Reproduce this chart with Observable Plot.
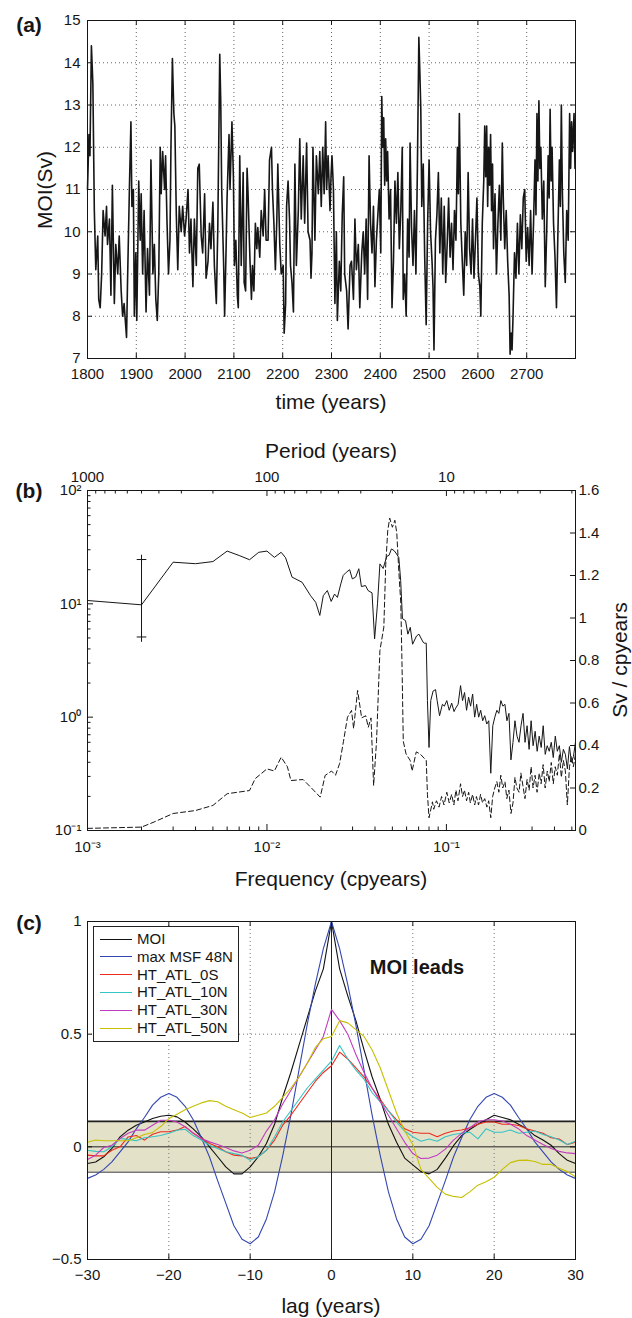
<!DOCTYPE html>
<html><head><meta charset="utf-8">
<script src="https://cdn.jsdelivr.net/npm/d3@7"></script>
<script src="https://cdn.jsdelivr.net/npm/@observablehq/plot@0.6"></script>
<style>
body{margin:0;background:#fff;}
#root{position:relative;width:632px;height:1318px;font-family:"Liberation Sans",Arial,Helvetica,sans-serif;color:#161616;overflow:hidden;}
.abs{position:absolute;white-space:nowrap;line-height:1;}
</style></head><body><div id="root"></div>
<script>
// ---------------- DATA ----------------
// (a) MOI time series [year, Sv]
const moiSeries = [
[1800,11.0],[1803,12.3],[1805,11.8],[1808,14.4],[1811,13.5],[1814,10.5],[1817,9.1],[1821,9.9],[1823,8.4],[1826,8.2],[1829,9.0],[1832,10.5],[1836,9.9],[1839,10.6],[1841,9.7],[1845,10.3],[1848,8.5],[1851,11.1],[1855,8.3],[1858,9.7],[1862,9.0],[1865,9.9],[1869,8.6],[1872,8.0],[1875,8.3],[1880,7.5],[1882,8.8],[1886,11.1],[1889,12.6],[1891,10.6],[1894,11.0],[1896,8.0],[1899,9.5],[1901,7.9],[1905,11.2],[1908,9.8],[1910,10.9],[1913,9.0],[1916,10.5],[1920,8.1],[1923,9.6],[1927,8.5],[1930,11.7],[1934,9.0],[1937,9.7],[1940,8.4],[1943,7.9],[1946,9.0],[1949,12.0],[1951,10.9],[1954,11.9],[1958,11.0],[1960,11.8],[1963,10.2],[1966,9.0],[1969,9.8],[1971,12.0],[1974,14.1],[1977,12.8],[1979,12.5],[1982,10.4],[1985,9.1],[1988,10.6],[1992,10.0],[1995,10.6],[1999,9.9],[2002,10.3],[2006,11.0],[2009,9.5],[2012,10.3],[2016,8.7],[2019,10.3],[2023,9.2],[2026,11.5],[2029,11.6],[2033,9.9],[2036,9.5],[2040,10.9],[2043,8.9],[2047,9.3],[2050,10.2],[2053,9.6],[2057,10.7],[2060,9.2],[2064,8.3],[2067,10.1],[2071,14.2],[2073,13.1],[2075,11.0],[2079,9.2],[2081,8.0],[2084,9.6],[2086,10.8],[2090,12.3],[2092,11.0],[2096,12.6],[2099,11.3],[2101,9.2],[2104,9.8],[2107,8.5],[2109,8.2],[2112,11.8],[2115,9.2],[2119,11.4],[2121,8.8],[2124,8.6],[2127,11.5],[2129,10.9],[2133,9.3],[2136,8.4],[2138,9.2],[2141,8.6],[2144,10.2],[2147,9.6],[2149,10.1],[2153,9.4],[2156,10.5],[2160,9.9],[2163,11.0],[2166,9.8],[2170,9.8],[2173,11.7],[2177,12.0],[2179,11.0],[2182,10.2],[2185,9.1],[2188,10.3],[2190,11.6],[2194,9.7],[2197,9.0],[2201,9.2],[2203,7.6],[2206,8.3],[2208,10.6],[2211,11.2],[2214,10.3],[2216,9.2],[2219,8.8],[2222,8.1],[2225,11.6],[2228,9.2],[2232,10.5],[2235,12.2],[2238,10.3],[2242,11.8],[2245,10.2],[2249,12.1],[2252,10.0],[2256,9.8],[2258,8.9],[2260,9.5],[2262,12.0],[2266,9.8],[2269,11.8],[2273,10.9],[2276,11.9],[2279,10.6],[2282,12.0],[2285,10.9],[2288,12.6],[2290,11.0],[2293,11.8],[2297,10.5],[2299,11.3],[2301,11.8],[2304,11.0],[2307,8.3],[2310,10.0],[2312,7.9],[2316,9.3],[2319,8.6],[2322,10.4],[2325,11.3],[2327,9.0],[2331,8.6],[2334,7.7],[2338,9.2],[2341,9.3],[2345,8.4],[2348,10.3],[2351,9.1],[2355,9.7],[2358,8.2],[2362,9.5],
[2365,10.0],[2368,9.0],[2371,10.3],[2374,8.4],[2377,11.8],[2380,10.2],[2383,9.5],[2386,10.6],[2389,8.7],[2392,9.8],[2395,10.4],[2398,11.0],[2401,9.5],[2403,13.2],[2405,12.0],[2407,12.7],[2409,11.1],[2411,12.2],[2413,11.2],[2415,11.9],[2418,10.3],[2421,11.0],[2424,8.2],[2427,9.3],[2430,11.2],[2433,10.2],[2436,11.4],[2439,9.6],[2442,10.5],[2445,12.0],[2447,8.4],[2450,9.0],[2453,8.0],[2456,10.3],[2459,9.4],[2461,12.1],[2464,10.1],[2467,9.2],[2470,10.5],[2473,9.0],[2476,11.5],[2479,14.6],[2481,13.8],[2483,12.9],[2485,10.6],[2488,11.6],[2491,9.4],[2494,7.8],[2497,10.2],[2500,11.7],[2503,10.0],[2506,9.3],[2508,8.7],[2510,7.2],[2513,9.8],[2516,10.4],[2519,11.4],[2522,9.5],[2525,10.8],[2528,9.0],[2531,10.6],[2534,8.8],[2537,9.7],[2540,10.8],[2543,9.4],[2546,10.2],[2549,9.1],[2552,10.5],[2555,9.8],[2558,12.0],[2560,10.9],[2562,12.8],[2565,10.2],[2568,9.3],[2571,8.5],[2574,10.0],[2577,9.2],[2580,11.4],[2583,9.6],[2586,9.0],[2589,10.3],[2592,8.9],[2595,9.8],[2598,10.8],[2601,9.0],[2604,8.7],[2606,8.0],[2609,10.2],[2612,11.2],[2614,12.5],[2616,11.3],[2618,12.5],[2620,10.6],[2622,12.0],[2624,11.1],[2626,12.3],[2628,10.5],[2630,11.6],[2632,9.6],[2635,10.9],[2638,9.0],[2641,10.2],[2644,11.1],[2647,9.8],[2650,12.1],[2652,10.8],[2655,9.6],[2658,10.5],[2661,9.3],[2664,8.5],[2666,7.1],[2668,7.6],[2670,7.2],[2672,8.0],[2675,9.5],[2678,8.9],[2681,10.2],[2684,9.0],[2687,10.4],[2690,9.6],[2693,10.8],[2696,11.0],[2699,9.3],[2702,10.1],[2705,9.2],[2708,10.5],[2711,9.0],[2714,10.2],[2717,11.7],[2719,10.4],[2721,12.8],[2723,11.2],[2725,13.1],[2727,11.5],[2729,12.0],[2732,10.3],[2735,11.2],[2738,8.7],[2741,10.0],[2744,11.8],[2746,10.8],[2748,12.9],[2750,11.2],[2752,12.0],[2755,10.2],[2758,9.4],[2761,8.2],[2764,10.0],[2767,11.7],[2769,10.6],[2771,13.0],[2773,11.0],[2776,9.5],[2779,8.8],[2782,10.5],[2785,9.8],[2788,12.8],[2790,11.5],[2792,12.6],[2794,11.9],[2797,12.8],[2799,11.5]
];
const yearTicks = [1800,1900,2000,2100,2200,2300,2400,2500,2600,2700];
const yearDomain = [1800,2800];
const moiTicks = [7,8,9,10,11,12,13,14,15];

// (b) spectra [frequency (cpyears), value]
const specSolid = [
[0.001,10.7],[0.002,9.8],[0.003,23.3],[0.004,22.6],[0.005,23.6],[0.006,29.2],[0.007,26.7],[0.008,24.5],[0.009,28.5],[0.010,29.2],[0.011,25.7],[0.012,28.5],[0.0127,25.5],[0.0138,17.2],[0.0157,15.5],[0.0175,11.8],[0.0187,10.3],[0.0197,7.9],[0.0206,11.8],[0.0217,13.1],[0.0228,10.5],[0.0238,12.2],[0.0247,11.4],[0.0258,15.0],[0.0266,17.8],[0.0277,19.0],[0.0289,20.0],[0.0299,16.6],[0.0312,17.2],[0.0325,20.4],[0.0336,14.2],[0.0354,14.5],[0.0366,13.1],[0.0385,12.5],[0.0398,4.9],[0.0413,10],[0.0426,22.5],[0.0444,20.5],[0.0465,26.2],[0.0479,26.8],[0.0494,30.5],[0.0511,29.5],[0.0528,27.5],[0.0543,25.6],[0.0556,16.1],[0.0569,7.4],[0.0592,7.1],[0.0610,5.4],[0.0629,6.2],[0.0648,4.4],[0.0681,5.2],[0.0703,5.4],[0.0741,4.6],[0.0752,4.5],[0.0772,4.5],[0.0784,1.4],[0.0800,0.54],[0.0818,1.4],[0.0843,1.7],[0.0870,1.75],[0.0888,1.4],[0.0916,1.03],[0.0950,1.3],[0.0974,1.25],[0.1005,1.4],[0.1037,1.15],[0.1070,1.33],[0.1103,1.12],[0.1126,1.2],[0.1162,1.3],[0.1199,1.9],[0.1230,1.4],[0.1262,1.65],[0.1295,1.15],[0.1329,1.5],[0.1364,1.25],[0.1400,1.6],[0.1437,1.0],[0.1474,1.3],[0.1513,1.0],[0.1552,1.15],[0.1593,0.93],[0.1635,1.03],[0.1678,0.87],[0.1722,0.93],[0.1767,0.32],[0.1813,0.84],[0.1861,1.0],[0.1910,1.15],[0.1960,1.08],[0.2011,1.4],[0.2064,1.25],[0.2118,1.3],[0.2174,0.93],[0.2231,1.08],[0.2289,0.42],[0.2349,0.6],[0.2410,0.93],[0.2474,0.68],[0.2538,0.6],[0.2605,0.84],[0.2673,1.08],[0.2743,0.6],[0.2815,0.84],[0.2889,0.52],[0.2965,0.93],[0.3042,0.56],[0.3122,0.75],[0.3204,0.5],[0.3288,0.68],[0.3374,0.54],[0.3462,0.84],[0.3553,0.47],[0.3646,0.56],[0.3741,0.5],[0.3840,0.6],[0.3940,0.44],[0.4044,0.68],[0.4150,0.5],[0.4258,0.56],[0.4370,0.4],[0.4485,0.52],[0.4602,0.47],[0.4723,0.35],[0.4847,0.55],[0.4974,0.4],[0.5104,0.45],[0.5238,0.6]
];
const specDashed = [
[0.001,0.01],[0.002,0.016],[0.00235,0.04],[0.003,0.08],[0.004,0.094],[0.005,0.118],[0.006,0.173],[0.008,0.188],[0.0086,0.244],[0.010,0.29],[0.011,0.28],[0.012,0.345],[0.013,0.30],[0.0136,0.235],[0.0159,0.24],[0.0177,0.2],[0.0198,0.157],[0.0211,0.259],[0.0229,0.28],[0.0241,0.26],[0.0254,0.315],[0.0267,0.42],[0.0281,0.533],[0.0296,0.565],[0.0304,0.48],[0.0320,0.659],[0.0337,0.53],[0.0355,0.54],[0.0367,0.486],[0.0380,0.53],[0.0393,0.212],[0.0408,0.42],[0.0426,0.847],[0.0448,0.957],[0.0459,1.25],[0.0471,1.41],[0.0483,1.47],[0.0500,1.427],[0.0516,1.46],[0.0529,1.4],[0.0543,1.22],[0.0557,1.07],[0.0566,0.77],[0.0575,0.42],[0.0596,0.36],[0.0628,0.33],[0.0644,0.28],[0.0679,0.37],[0.0714,0.36],[0.0752,0.34],[0.0772,0.33],[0.0784,0.17],[0.0800,0.06],[0.0836,0.135],[0.085,0.1],[0.088,0.14],[0.091,0.11],[0.094,0.16],[0.097,0.12],[0.1005,0.18],[0.1037,0.13],[0.107,0.17],[0.110,0.12],[0.113,0.19],[0.116,0.14],[0.1199,0.22],[0.123,0.16],[0.126,0.19],[0.1295,0.14],[0.133,0.18],[0.136,0.13],[0.140,0.17],[0.1437,0.12],[0.147,0.16],[0.151,0.12],[0.155,0.17],[0.159,0.13],[0.1635,0.15],[0.168,0.11],[0.172,0.14],[0.1767,0.06],[0.181,0.16],[0.186,0.2],[0.191,0.23],[0.196,0.18],[0.201,0.26],[0.206,0.2],[0.212,0.23],[0.217,0.15],[0.223,0.19],[0.229,0.08],[0.235,0.13],[0.241,0.25],[0.247,0.2],[0.254,0.18],[0.26,0.27],[0.267,0.21],[0.274,0.15],[0.2815,0.24],[0.289,0.19],[0.2965,0.3],[0.304,0.2],[0.312,0.26],[0.320,0.18],[0.329,0.27],[0.337,0.22],[0.346,0.31],[0.355,0.2],[0.365,0.28],[0.374,0.23],[0.384,0.32],[0.394,0.22],[0.404,0.3],[0.415,0.26],[0.426,0.36],[0.437,0.25],[0.4485,0.33],[0.46,0.28],[0.472,0.12],[0.485,0.3],[0.497,0.35],[0.51,0.3],[0.524,0.36]
];
const errBar = {freq: 0.002, low: 5.1, high: 24.6};
const freqDomain = [0.001, 0.524];
const freqMajor = [0.001, 0.01, 0.1];
const freqMinor = [0.002,0.003,0.004,0.005,0.006,0.007,0.008,0.009,0.02,0.03,0.04,0.05,0.06,0.07,0.08,0.09,0.2,0.3,0.4,0.5];
const periodMajor = [1000, 100, 10];
const periodMinor = [900,800,700,600,500,400,300,200,90,80,70,60,50,40,30,20,9,8,7,6,5,4,3,2];
const specMajor = [0.1, 1, 10, 100];
const specMinor = [0.2,0.3,0.4,0.5,0.6,0.7,0.8,0.9,2,3,4,5,6,7,8,9,20,30,40,50,60,70,80,90];
const supLabels = {"0.001":"10⁻³","0.01":"10⁻²","0.1":"10⁻¹","1":"10⁰","10":"10¹","100":"10²"};
const rightTicks = [0,0.2,0.4,0.6,0.8,1,1.2,1.4,1.6];

// (c) lagged correlations, lag -30..30
const lags = d3.range(-30, 31);
const corrMOI = [-0.074,-0.067,-0.044,-0.007,0.044,0.074,0.096,0.11,0.126,0.136,0.14,0.133,0.11,0.08,0.044,0.0,-0.044,-0.089,-0.12,-0.12,-0.089,-0.044,0.015,0.1,0.22,0.33,0.45,0.57,0.69,0.79,1.0,0.79,0.67,0.56,0.43,0.31,0.21,0.1,0.02,-0.05,-0.08,-0.11,-0.12,-0.1,-0.05,0.005,0.05,0.077,0.1,0.12,0.14,0.13,0.12,0.1,0.08,0.05,0.03,0.007,-0.03,-0.06,-0.074];
const corrMSF = [-0.14,-0.125,-0.1,-0.067,-0.022,0.022,0.08,0.13,0.185,0.22,0.237,0.22,0.18,0.12,0.04,-0.045,-0.15,-0.25,-0.35,-0.41,-0.43,-0.4,-0.32,-0.2,-0.04,0.14,0.34,0.54,0.72,0.88,1.0,0.88,0.72,0.54,0.34,0.14,-0.04,-0.2,-0.32,-0.4,-0.43,-0.41,-0.35,-0.25,-0.15,-0.045,0.04,0.12,0.18,0.22,0.237,0.22,0.185,0.13,0.08,0.022,-0.022,-0.067,-0.1,-0.125,-0.14];
const corr0S = [-0.037,-0.04,-0.04,-0.015,0.0,0.044,0.05,0.03,0.056,0.067,0.067,0.074,0.09,0.06,0.037,0.015,0.0,-0.022,-0.037,-0.04,-0.052,-0.044,-0.015,0.03,0.096,0.14,0.19,0.24,0.29,0.33,0.36,0.42,0.39,0.35,0.31,0.26,0.21,0.16,0.12,0.08,0.065,0.06,0.06,0.045,0.06,0.07,0.075,0.085,0.1,0.11,0.11,0.1,0.1,0.095,0.08,0.07,0.06,0.04,0.035,0.01,0.02];
const corr10N = [-0.015,-0.02,-0.022,0.0,0.037,0.033,0.027,0.04,0.045,0.05,0.06,0.074,0.078,0.05,0.03,0.007,-0.007,-0.022,-0.03,-0.037,-0.06,-0.044,-0.015,0.044,0.11,0.16,0.21,0.26,0.3,0.34,0.38,0.45,0.39,0.34,0.3,0.24,0.2,0.16,0.11,0.07,0.045,0.025,0.035,0.025,0.045,0.055,0.06,0.065,0.035,0.08,0.065,0.065,0.075,0.06,0.065,0.07,0.055,0.045,0.03,0.01,0.025];
const corr30N = [-0.056,-0.037,-0.003,0.007,0.037,0.06,0.074,0.074,0.096,0.118,0.118,0.11,0.089,0.062,0.037,0.022,0.01,-0.003,-0.018,-0.027,-0.015,0.007,0.07,0.12,0.19,0.25,0.31,0.37,0.43,0.49,0.61,0.56,0.5,0.41,0.33,0.26,0.2,0.14,0.08,0.02,-0.03,-0.052,-0.05,-0.037,-0.01,0.03,0.06,0.085,0.11,0.12,0.12,0.115,0.1,0.08,0.05,0.03,0.01,-0.007,-0.02,-0.027,-0.03];
const corr50N = [0.02,0.03,0.027,0.027,0.027,0.027,0.04,0.055,0.064,0.09,0.125,0.145,0.165,0.18,0.195,0.205,0.2,0.18,0.165,0.15,0.13,0.14,0.15,0.18,0.22,0.26,0.31,0.37,0.44,0.48,0.49,0.56,0.55,0.52,0.49,0.43,0.35,0.25,0.15,0.07,0.01,-0.1,-0.14,-0.18,-0.21,-0.22,-0.225,-0.2,-0.17,-0.155,-0.135,-0.1,-0.07,-0.06,-0.059,-0.065,-0.078,-0.078,-0.095,-0.11,-0.133];
const seriesNames = ["MOI","max MSF 48N","HT_ATL_0S","HT_ATL_10N","HT_ATL_30N","HT_ATL_50N"];
const seriesColors = ["#111111","#3347b0","#ee2a1e","#35c4c4","#c03cc0","#c6c000"];
const sigLevel = 0.113;
const lagTicks = [-30,-20,-10,0,10,20,30];
const lagGrid = [-20,-10,10,20];
const corrTicks = [-0.5,0,0.5,1];
const corrTickLabels = ["−0.5","0","0.5","1"];

// ---------------- DRAWING ----------------
const FONT = '"Liberation Sans", Arial, Helvetica, sans-serif';
const root = document.getElementById("root");
const W = 632, ML = 87, MR = 57, PW = W - ML - MR;
const baseStyle = {fontFamily: FONT, fontSize: "15px", color: "#161616", background: "transparent", overflow: "visible"};
const INK = "#161616";

function place(svg, top) { svg.style.position = "absolute"; svg.style.left = "0px"; svg.style.top = top + "px"; root.appendChild(svg); }
function text(t, x, y, o = {}) {
  const d = document.createElement("div");
  d.className = "abs"; d.textContent = t;
  d.style.left = x + "px"; d.style.top = y + "px";
  d.style.fontSize = (o.size || 21) + "px";
  d.style.fontWeight = o.bold ? "bold" : "normal";
  d.style.transform = "translate(-50%,-50%)" + (o.rotate ? ` rotate(${o.rotate}deg)` : "");
  root.appendChild(d);
}
// inward tick helpers (ph = plot inner height)
const ticksBottom = (vals, len, ph) => Plot.tickX(vals, {x: d => d, insetTop: ph - len, stroke: INK});
const ticksTop = (vals, len, ph) => Plot.tickX(vals, {x: d => d, insetBottom: ph - len, stroke: INK});
const ticksLeft = (vals, len) => Plot.tickY(vals, {y: d => d, insetRight: PW - len, stroke: INK});
const ticksRight = (vals, len) => Plot.tickY(vals, {y: d => d, insetLeft: PW - len, stroke: INK});

// ---- panel (a)
{
  const H = 410, mt = 20, mb = 52, ph = H - mt - mb;
  const svg = Plot.plot({
    width: W, height: H, marginLeft: ML, marginRight: MR, marginTop: mt, marginBottom: mb,
    style: baseStyle,
    x: {domain: yearDomain}, y: {domain: [moiTicks[0], moiTicks[moiTicks.length - 1]]},
    marks: [
      Plot.ruleX(yearTicks.slice(1), {x: d => d, stroke: "#666", strokeDasharray: "1,3"}),
      Plot.ruleY(moiTicks.slice(1, -1), {y: d => d, stroke: "#666", strokeDasharray: "1,3"}),
      Plot.line(moiSeries, {x: d => d[0], y: d => d[1], stroke: INK, strokeWidth: 1.6}),
      Plot.frame({stroke: INK}),
      ticksBottom(yearTicks, 5, ph), ticksTop(yearTicks, 5, ph),
      ticksLeft(moiTicks, 5), ticksRight(moiTicks, 5),
      Plot.axisX({ticks: yearTicks, tickSize: 0, tickPadding: 10, label: null, tickFormat: d => String(d)}),
      Plot.axisY({ticks: moiTicks, tickSize: 0, tickPadding: 7, label: null})
    ]
  });
  place(svg, 0);
  text("(a)", 29, 24, {size: 21, bold: true});
  text("MOI(Sv)", 44, 190, {size: 21, rotate: -90});
  text("time (years)", 331, 401, {size: 21});
}

// ---- panel (b)
{
  const top = 430, H = 440, mt = 60, mb = 40, ph = H - mt - mb;
  const fmtSup = d => supLabels[String(d)];
  const svg = Plot.plot({
    width: W, height: H, marginLeft: ML, marginRight: MR, marginTop: mt, marginBottom: mb,
    style: baseStyle,
    x: {type: "log", domain: freqDomain}, y: {type: "log", domain: [0.1, 100]},
    marks: [
      Plot.line(specSolid, {x: d => d[0], y: d => d[1], stroke: INK, strokeWidth: 1}),
      Plot.ruleX([errBar], {x: "freq", y1: "low", y2: "high", stroke: INK}),
      Plot.dot([errBar.low, errBar.high], {x: () => errBar.freq, y: d => d, symbol: "plus", r: 3.2, stroke: INK, strokeWidth: 1}),
      Plot.frame({stroke: INK}),
      ticksBottom(freqMajor, 6, ph), ticksBottom(freqMinor, 3.5, ph),
      ticksTop(periodMajor.map(p => 1 / p), 6, ph), ticksTop(periodMinor.map(p => 1 / p), 3.5, ph),
      ticksLeft(specMajor, 6), ticksLeft(specMinor, 3.5),
      Plot.axisX({anchor: "bottom", ticks: freqMajor, tickFormat: fmtSup, tickSize: 0, tickPadding: 11, label: null}),
      Plot.axisX({anchor: "top", ticks: periodMajor.map(p => 1 / p), tickFormat: f => String(Math.round(1 / f)), tickSize: 0, tickPadding: 9, label: null}),
      Plot.axisY({anchor: "left", ticks: specMajor, tickFormat: fmtSup, tickSize: 0, tickPadding: 6, label: null})
    ]
  });
  place(svg, top);
  const svg2 = Plot.plot({
    width: W, height: H, marginLeft: ML, marginRight: MR, marginTop: mt, marginBottom: mb,
    style: baseStyle,
    x: {type: "log", domain: freqDomain, axis: null}, y: {domain: [0, 1.6]},
    marks: [
      Plot.line(specDashed, {x: d => d[0], y: d => d[1], stroke: INK, strokeWidth: 1, strokeDasharray: "5,3"}),
      ticksRight(rightTicks, 5),
      Plot.axisY({anchor: "right", ticks: rightTicks, tickFormat: d => String(d), tickSize: 0, tickPadding: 3, label: null})
    ]
  });
  place(svg2, top);
  text("(b)", 29, 490, {size: 21, bold: true});
  text("Period (years)", 331, 450, {size: 21});
  text("Frequency (cpyears)", 331, 878, {size: 21});
  text("Sv / cpyears", 619, 660, {size: 21, rotate: -90});
}

// ---- panel (c)
{
  const top = 900, H = 418, mt = 21, mb = 59, ph = H - mt - mb;
  const all = [corrMOI, corrMSF, corr0S, corr10N, corr30N, corr50N];
  const corrData = all.flatMap((vals, k) => lags.map((lag, i) => ({lag, r: vals[i], name: seriesNames[k]})));
  const svg = Plot.plot({
    width: W, height: H, marginLeft: ML, marginRight: MR, marginTop: mt, marginBottom: mb,
    style: baseStyle,
    x: {domain: [lagTicks[0], lagTicks[lagTicks.length - 1]]}, y: {domain: [corrTicks[0], corrTicks[corrTicks.length - 1]]},
    color: {domain: seriesNames, range: seriesColors},
    marks: [
      Plot.areaY(lags, {x: d => d, y1: -sigLevel, y2: sigLevel, fill: "#e4e1c9"}),
      Plot.ruleX(lagGrid, {x: d => d, stroke: "#777", strokeDasharray: "1,3"}),
      Plot.ruleY([0.5], {y: d => d, stroke: "#777", strokeDasharray: "1,3"}),
      Plot.ruleY([sigLevel], {y: d => d, stroke: "#222", strokeWidth: 1.6}),
      Plot.ruleY([-sigLevel], {y: d => d, stroke: "#777", strokeWidth: 1.6}),
      Plot.ruleY([0], {y: d => d, stroke: "#222", strokeWidth: 1}),
      Plot.ruleX([0], {x: d => d, stroke: "#222", strokeWidth: 1}),
      Plot.line(corrData, {x: "lag", y: "r", z: "name", stroke: "name", strokeWidth: 1.1}),
      Plot.frame({stroke: INK}),
      ticksBottom(lagTicks, 5, ph), ticksTop(lagTicks, 5, ph),
      ticksLeft(corrTicks, 5), ticksRight(corrTicks, 5),
      Plot.axisX({ticks: lagTicks, tickSize: 0, tickPadding: 10, label: null}),
      Plot.axisY({ticks: corrTicks, tickSize: 0, tickPadding: 6, label: null, tickFormat: d => corrTickLabels[corrTicks.indexOf(d)]})
    ]
  });
  place(svg, top);
  text("(c)", 29, 922, {size: 21, bold: true});
  text("lag (years)", 331, 1305, {size: 21});
  text("MOI leads", 417, 967, {size: 20, bold: true});
  // legend
  const box = document.createElement("div");
  box.style.cssText = "position:absolute;left:93px;top:926px;width:144px;height:114px;border:1.3px solid #222;background:#fff;";
  seriesNames.forEach((n, i) => {
    const row = document.createElement("div");
    row.style.cssText = `position:absolute;left:0;top:${3 + i * 17.8}px;height:18px;display:flex;align-items:center;`;
    const ln = document.createElement("span");
    ln.style.cssText = `display:inline-block;width:32px;margin-left:6px;margin-right:5px;border-top:1.5px solid ${seriesColors[i]};`;
    const tx = document.createElement("span");
    tx.textContent = n; tx.style.fontSize = "15px"; tx.style.lineHeight = "18px";
    row.appendChild(ln); row.appendChild(tx); box.appendChild(row);
  });
  root.appendChild(box);
}
</script></body></html>
